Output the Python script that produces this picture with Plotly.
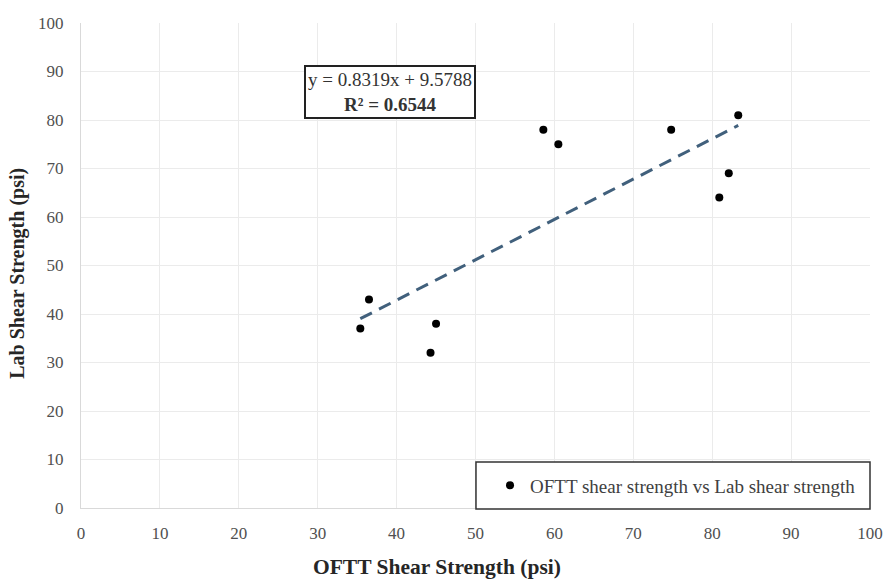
import plotly.graph_objects as go

# OFTT vs laboratory shear strength (psi)
oftt_strength = [35.4, 36.5, 44.3, 45.0, 58.6, 60.5, 74.8, 80.9, 82.1, 83.3]
lab_strength = [37, 43, 32, 38, 78, 75, 78, 64, 69, 81]

# Linear trendline coefficients as reported on the chart
slope = 0.8319
intercept = 9.5788
r_squared = 0.6544

x_ticks = list(range(0, 101, 10))
y_ticks = list(range(0, 101, 10))

serif = "Liberation Serif, Times New Roman, serif"

trend_x = [min(oftt_strength), max(oftt_strength)]
trend_y = [slope * v + intercept for v in trend_x]

fig = go.Figure()
fig.add_trace(go.Scatter(
    x=trend_x, y=trend_y, mode="lines",
    line=dict(color="#41607c", width=3, dash="13px,8px"),
    showlegend=False, hoverinfo="skip",
))
fig.add_trace(go.Scatter(
    x=oftt_strength, y=lab_strength, mode="markers",
    marker=dict(color="black", size=8),
    name="OFTT shear strength vs Lab shear strength",
))

# Trendline equation box
fig.add_annotation(
    x=39.15, y=85.8, xref="x", yref="y",
    text=f"y = {slope}x + {intercept}<br><b>R² = {r_squared}</b>",
    showarrow=False, align="center",
    font=dict(family=serif, size=19, color="#333333"),
    bordercolor="#222222", borderwidth=2, borderpad=2, bgcolor="white",
)

# Axis titles
fig.add_annotation(
    x=0.451, y=-0.122, xref="paper", yref="paper",
    xanchor="center", yanchor="middle", showarrow=False,
    text="<b>OFTT Shear Strength (psi)</b>",
    font=dict(family=serif, size=21.5, color="#262626"),
)
fig.add_annotation(
    x=-0.0798, y=0.483, xref="paper", yref="paper",
    xanchor="center", yanchor="middle", showarrow=False, textangle=-90,
    text="<b>Lab Shear Strength (psi)</b>",
    font=dict(family=serif, size=20, color="#262626"),
)

# Framed legend panel
fig.add_shape(
    type="rect", xref="paper", yref="paper",
    x0=0.5006, x1=1.0, y0=-0.002, y1=0.0948,
    fillcolor="white", line=dict(color="#333333", width=1.5), layer="above",
)

fig.update_layout(
    width=887, height=581,
    margin=dict(l=81, r=17, t=23, b=73),
    paper_bgcolor="white", plot_bgcolor="white",
    font=dict(family=serif, color="#505050", size=17),
    legend=dict(
        x=0.5184, y=0.0464, xanchor="left", yanchor="middle",
        bgcolor="rgba(0,0,0,0)", borderwidth=0,
        font=dict(family=serif, size=19, color="#404040"),
        itemwidth=30,
    ),
    xaxis=dict(
        range=[0, 100], tickvals=x_ticks, showgrid=True, gridcolor="#ebebeb",
        zeroline=False, showline=True, linecolor="#d9d9d9", ticks="",
        ticklabelstandoff=10, automargin=False,
        tickfont=dict(family=serif, size=17, color="#505050"),
    ),
    yaxis=dict(
        range=[0, 100], tickvals=y_ticks, showgrid=True, gridcolor="#ebebeb",
        zeroline=False, showline=True, linecolor="#d9d9d9", ticks="",
        ticklabelstandoff=13, automargin=False,
        tickfont=dict(family=serif, size=17, color="#505050"),
    ),
)

fig.write_html("out.html")
